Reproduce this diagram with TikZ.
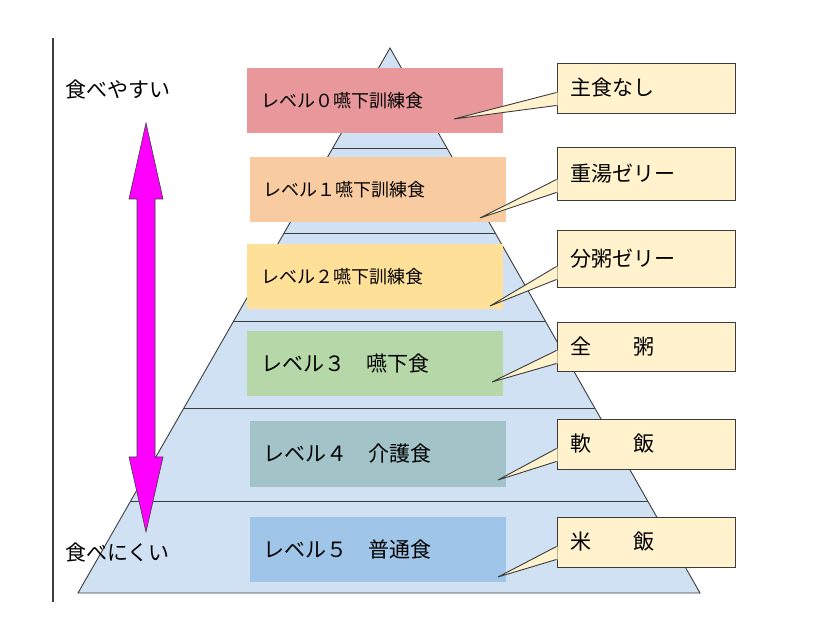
\documentclass[tikz,border=0pt]{standalone}
\usepackage{fontspec}
\setmainfont{Noto Sans CJK JP}
\usetikzlibrary{calc}

\definecolor{linecol}{RGB}{60,60,60}
\definecolor{pyrfill}{RGB}{207,225,243}
\definecolor{lvzero}{RGB}{232,152,154}
\definecolor{lvone}{RGB}{248,203,160}
\definecolor{lvtwo}{RGB}{255,224,152}
\definecolor{lvthree}{RGB}{182,215,167}
\definecolor{lvfour}{RGB}{162,196,201}
\definecolor{lvfive}{RGB}{159,197,232}
\definecolor{notefill}{RGB}{255,242,204}
\definecolor{arrowcol}{RGB}{255,0,255}

\begin{document}
\begin{tikzpicture}[x=1pt,y=1pt]

      \useasboundingbox (0,0) rectangle (822,619);

      % vertical line on the left
      \coordinate (axtop) at (53,581);
      \coordinate (axbot) at (53,17);
      \draw[linecol, line width=1.6pt] (axtop) -- (axbot);

      % pyramid
      \coordinate (top) at (390,571);
      \coordinate (bl)  at (78,26);
      \coordinate (br)  at (700,26);
      \draw[linecol, fill=pyrfill, line width=.9pt] (top) -- (bl) -- (br) -- cycle;
      \foreach \t in {.1835,.3394,.5009,.6606,.8312}
        \draw[linecol, line width=.9pt] ($(top)!\t!(bl)$) -- ($(top)!\t!(br)$);

      \begin{scope}[every node/.style={text width=228pt, inner xsep=14pt, inner ysep=0pt,
                                      minimum height=65pt, align=left}]
        \begin{scope}[every node/.append style={font=\fontsize{18}{20}\selectfont}]
          \node[fill=lvzero] (lv0) at (375,518.5) {レベル０嚥下訓練食};
          \node[fill=lvone]  (lv1) at (377.5,429.5) {レベル１嚥下訓練食};
          \node[fill=lvtwo]  (lv2) at (375,342) {レベル２嚥下訓練食};
        \end{scope}
        \begin{scope}[every node/.append style={font=\fontsize{21}{24}\selectfont}]
          \node[fill=lvthree] (lv3) at (375,255) {レベル３　嚥下食};
          \node[fill=lvfour]  (lv4) at (377.5,165) {レベル４　介護食};
          \node[fill=lvfive]  (lv5) at (377.5,69.5) {レベル５　普通食};
        \end{scope}
      \end{scope}

      % callouts
      \begin{scope}[every node/.style={draw=linecol, fill=notefill, line width=.9pt,
                                      text width=152pt, inner xsep=13pt, inner ysep=0pt,
                                      align=left, font=\fontsize{21}{24}\selectfont}]
        \node[minimum height=50pt] (c0) at (646,531)   {主食なし};
        \node[minimum height=53pt] (c1) at (646,445.5) {重湯ゼリー};
        \node[minimum height=57pt] (c2) at (646,360.5) {分粥ゼリー};
        \node[minimum height=49pt] (c3) at (646,272.5) {全　　粥};
        \node[minimum height=50pt] (c4) at (646,175)   {軟　　飯};
        \node[minimum height=50pt] (c5) at (646,77)    {米　　飯};
      \end{scope}

      \coordinate (p0) at (454,500);
      \coordinate (p1) at (480,401);
      \coordinate (p2) at (490,313);
      \coordinate (p3) at (492,237);
      \coordinate (p4) at (498,139);
      \coordinate (p5) at (498,42);

      \foreach \i in {0,...,5} {
        \fill[notefill] ($(c\i.south west)+(1,8)$) -- (p\i) -- ($(c\i.south west)+(1,21)$) -- cycle;
        \draw[linecol, line width=.9pt] ($(c\i.south west)+(0,8)$) -- (p\i) -- ($(c\i.south west)+(0,21)$);
      }

      % double arrow
      \draw[linecol, fill=arrowcol, line width=.6pt]
        (146,496) -- (163,420) -- (155,420) -- (155,162) -- (163,162) -- (146,87)
        -- (129,162) -- (137,162) -- (137,420) -- (129,420) -- cycle;

      \begin{scope}[every node/.style={anchor=west, inner sep=0pt, font=\fontsize{21}{24}\selectfont}]
        \node (easy) at (65,529) {食べやすい};
        \node (hard) at (65,66)  {食べにくい};
      \end{scope}

\end{tikzpicture}
\end{document}
